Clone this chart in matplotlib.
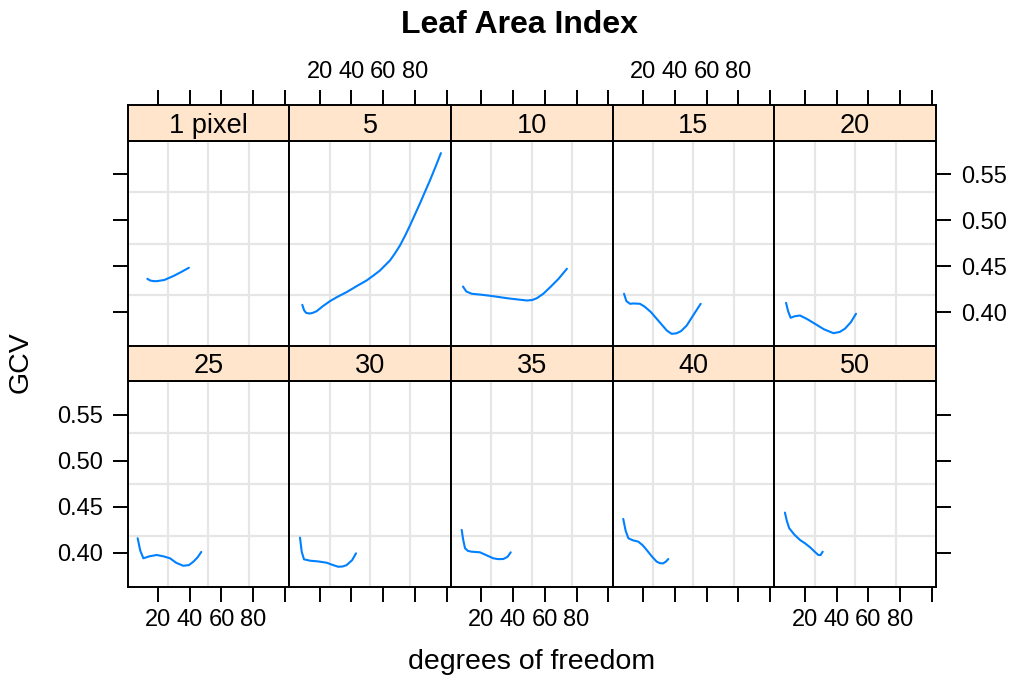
import matplotlib
matplotlib.use("Agg")
import matplotlib.pyplot as plt

plt.rcParams['font.family'] = ['Liberation Sans', 'DejaVu Sans']

# ---- data ----
panel_labels = ["1 pixel", "5", "10", "15", "20", "25", "30", "35", "40", "50"]

df_1 = [13.3, 15.0, 17.0, 19.2, 24.0, 30.0, 35.0, 39.5]
gcv_1 = [0.4363, 0.4345, 0.4338, 0.4337, 0.4350, 0.4395, 0.4440, 0.4483]

df_5 = [9.05, 10.2, 11.5, 13.9, 16.0, 18.1, 22.0, 26.5, 31.0, 37.0, 43.0, 49.6, 54.0,
        58.0, 61.0, 64.3, 67.5, 70.6, 73.8, 76.9, 80.0, 83.2, 86.4, 89.5, 93.0, 96.4]
gcv_5 = [0.4080, 0.4020, 0.3992, 0.3985, 0.3995, 0.4011, 0.4065, 0.4120, 0.4165, 0.4218,
         0.4280, 0.4345, 0.4400, 0.4453, 0.4505, 0.4562, 0.4640, 0.4725, 0.4830, 0.4942,
         0.5060, 0.5182, 0.5310, 0.5432, 0.5580, 0.5729]

df_10 = [8.4, 10.5, 14.0, 20.0, 25.6, 31.0, 36.1, 42.0, 48.7, 52.0, 55.0, 59.0, 63.4, 68.5, 73.9]
gcv_10 = [0.4279, 0.4225, 0.4200, 0.4190, 0.4178, 0.4165, 0.4152, 0.4140, 0.4127, 0.4132,
          0.4152, 0.4200, 0.4272, 0.4360, 0.4472]

df_15 = [8.0, 9.5, 11.8, 14.0, 18.06, 21.0, 25.0, 28.6, 32.0, 35.0, 38.0, 41.0, 44.0, 47.5, 51.0, 56.3]
gcv_15 = [0.4200, 0.4120, 0.4091, 0.4095, 0.4091, 0.4060, 0.4000, 0.3928, 0.3860, 0.3800,
          0.3765, 0.3770, 0.3795, 0.3855, 0.3950, 0.4091]

df_20 = [8.2, 9.5, 11.1, 13.5, 17.0, 21.5, 26.4, 32.0, 38.0, 42.0, 45.3, 49.0, 52.3]
gcv_20 = [0.4102, 0.4010, 0.3939, 0.3955, 0.3964, 0.3925, 0.3874, 0.3815, 0.3772, 0.3785,
          0.3820, 0.3890, 0.3983]

df_25 = [7.2, 8.8, 10.8, 14.5, 19.2, 23.5, 27.6, 31.5, 35.9, 39.5, 42.3, 45.0, 47.3]
gcv_25 = [0.4157, 0.4025, 0.3939, 0.3960, 0.3975, 0.3960, 0.3939, 0.3890, 0.3858, 0.3865,
          0.3902, 0.3950, 0.4008]

df_30 = [7.6, 8.7, 10.1, 13.9, 19.0, 24.4, 28.0, 31.7, 34.5, 37.0, 40.5, 42.9]
gcv_30 = [0.4164, 0.4010, 0.3928, 0.3913, 0.3905, 0.3891, 0.3868, 0.3847, 0.3850, 0.3865,
          0.3920, 0.3993]

df_35 = [7.6, 8.5, 9.7, 11.5, 13.7, 19.1, 23.5, 27.5, 30.5, 33.8, 36.5, 38.5]
gcv_35 = [0.4248, 0.4145, 0.4048, 0.4020, 0.4011, 0.4004, 0.3970, 0.3939, 0.3930, 0.3931,
          0.3955, 0.4004]

df_40 = [7.5, 9.0, 10.7, 13.5, 17.0, 19.8, 22.3, 25.5, 28.6, 30.8, 32.7, 34.5, 35.9]
gcv_40 = [0.4367, 0.4240, 0.4157, 0.4135, 0.4120, 0.4080, 0.4029, 0.3960, 0.3902, 0.3885,
          0.3884, 0.3905, 0.3931]

df_50 = [7.5, 8.7, 10.2, 13.5, 17.0, 20.3, 23.3, 26.0, 28.5, 30.0, 31.3]
gcv_50 = [0.4436, 0.4345, 0.4266, 0.4195, 0.4138, 0.4100, 0.4059, 0.4015, 0.3975, 0.3975,
          0.4011]

series_x = [df_1, df_5, df_10, df_15, df_20, df_25, df_30, df_35, df_40, df_50]
series_y = [gcv_1, gcv_5, gcv_10, gcv_15, gcv_20, gcv_25, gcv_30, gcv_35, gcv_40, gcv_50]

x_ticks = [20, 40, 60, 80, 100]
x_ticklabels = ["20", "40", "60", "80", ""]
y_ticks = [0.40, 0.45, 0.50, 0.55]
y_ticklabels = ["0.40", "0.45", "0.50", "0.55"]

# ---- layout ----
W, H = 1016, 682
fig = plt.figure(figsize=(W / 100, H / 100), dpi=100)

XLIM = (0.8, 102.7)
YLIM = (0.3627, 0.5866)
line_col = "#0080ff"
strip_col = "#ffe5cc"
grid_col = "#e6e6e6"
LW = 1.4
TICK_LEN = 10.8
TICK_FS = 17
STRIP_FS = 19.5

left0 = 127.5
pw = 161.7
rows = [  # (strip_top, strip_bottom, panel_bottom)
    (105.0, 140.5, 346.5),
    (346.5, 381.0, 587.0),
]


def fx(px):
    return px / W


def fy(py):
    return 1 - py / H


for idx in range(10):
    r, c = divmod(idx, 5)
    s_top, s_bot, p_bot = rows[r]
    x0 = left0 + c * pw
    # panel
    ax = fig.add_axes([fx(x0), fy(p_bot), pw / W, (p_bot - s_bot) / H])
    ax.set_xlim(*XLIM)
    ax.set_ylim(*YLIM)
    for f in (0.25, 0.5, 0.75):
        ax.axvline(XLIM[0] + f * (XLIM[1] - XLIM[0]), color=grid_col, lw=1.6, zorder=0)
        ax.axhline(YLIM[0] + f * (YLIM[1] - YLIM[0]), color=grid_col, lw=1.6, zorder=0)
    ax.plot(series_x[idx], series_y[idx], color=line_col, lw=1.5, solid_capstyle='round',
            solid_joinstyle='round', zorder=3)
    for sp in ax.spines.values():
        sp.set_linewidth(LW)
        sp.set_color("black")
    ax.tick_params(direction='out', length=TICK_LEN, width=LW, labelsize=TICK_FS, pad=5)
    if r == 1:
        ax.set_xticks(x_ticks)
        if c % 2 == 0:
            ax.set_xticklabels(x_ticklabels)
        else:
            ax.set_xticklabels([""] * len(x_ticks))
        ax.tick_params(axis='x', bottom=True, top=False)
    else:
        ax.set_xticks([])
    ax.set_yticks(y_ticks)
    ax.tick_params(axis='y', left=False, right=False, labelleft=False, labelright=False)
    if c == 0:
        ax.tick_params(axis='y', left=True, labelleft=(r == 1), pad=7)
        ax.set_yticklabels(y_ticklabels)
    elif c == 4:
        ax.tick_params(axis='y', right=True, labelright=(r == 0), pad=7)
        ax.set_yticklabels(y_ticklabels)
    else:
        ax.set_yticks([])
    # strip
    sax = fig.add_axes([fx(x0), fy(s_bot), pw / W, (s_bot - s_top) / H])
    sax.set_facecolor(strip_col)
    sax.set_xlim(*XLIM)
    sax.set_ylim(0, 1)
    sax.set_yticks([])
    for sp in sax.spines.values():
        sp.set_linewidth(LW)
        sp.set_color("black")
    if r == 0:
        sax.set_xticks(x_ticks)
        sax.xaxis.tick_top()
        sax.tick_params(axis='x', direction='out', length=TICK_LEN, width=LW,
                        labelsize=TICK_FS, pad=5, top=True, bottom=False)
        if c % 2 == 1:
            sax.set_xticklabels(x_ticklabels)
        else:
            sax.set_xticklabels([""] * len(x_ticks))
    else:
        sax.set_xticks([])
    sax.text(0.5, 0.22, panel_labels[idx], transform=sax.transAxes, ha='center',
             va='baseline', fontsize=STRIP_FS)

fig.text(fx(519), fy(33.3), "Leaf Area Index", ha='center', va='baseline',
         fontsize=23, fontweight='bold')
fig.text(fx(532), fy(669), "degrees of freedom", ha='center', va='baseline', fontsize=20.5)
fig.text(fx(21), fy(362), "GCV", ha='center', va='center', rotation=90, fontsize=20.5)

fig.savefig("out.png", dpi=100, facecolor="white")
